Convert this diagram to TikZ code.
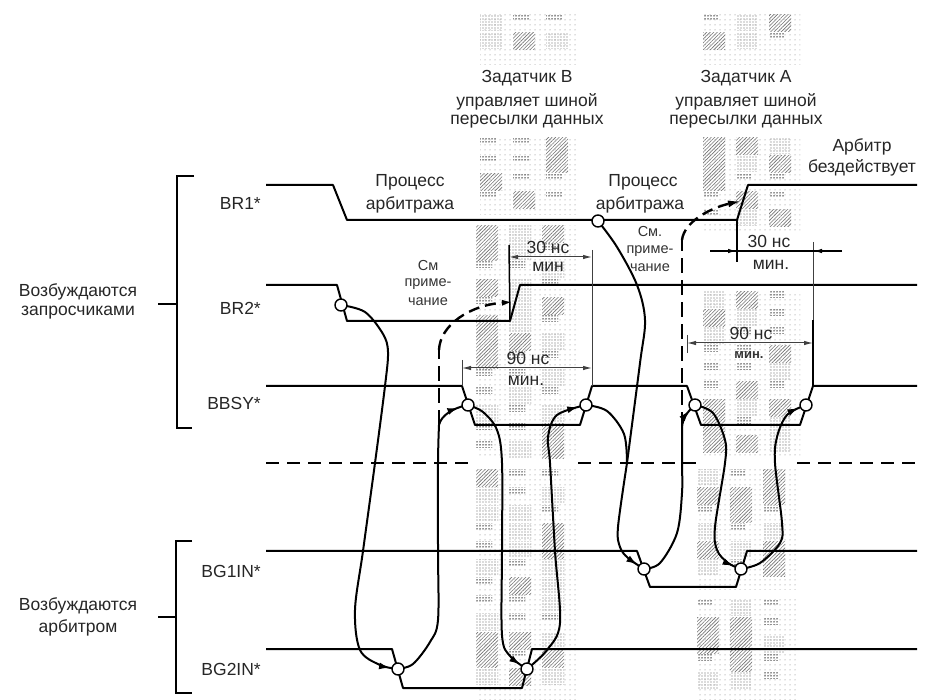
\documentclass[tikz,border=0pt]{standalone}
\usepackage{fontspec}
\setmainfont{Liberation Sans}
\usetikzlibrary{arrows.meta,decorations.markings,patterns.meta}
\pgfdeclarelayer{halftone}
\pgfdeclarelayer{lines}
\pgfsetlayers{halftone,lines,main}
\pgfmathsetseed{4711}
\newcommand{\bandtiles}[4]{% x0 x1 y0 y1
  \fill[pattern={Dots[distance=5pt,radius=.5pt]},pattern color=black!55] (#1,#3) rectangle (#2+22,#4+16);
  \pgfmathsetmacro{\xnext}{#1+33}
  \pgfmathsetmacro{\ynext}{#3+18}
  \foreach \tx in {#1,\xnext,...,#2}{
    \foreach \ty in {#3,\ynext,...,#4}{
      \pgfmathsetmacro{\pick}{int(random(1,6))}
      \ifnum\pick<3
        \fill[pattern={Lines[angle=45,distance=2.5pt,line width=.6pt]},pattern color=black!55] (\tx,\ty) rectangle ++(22,17);
      \else\ifnum\pick<5
        \fill[pattern={Dots[distance=3pt,radius=.55pt]},pattern color=black!60] (\tx,\ty) rectangle ++(22,16);
      \else
        \fill[pattern={Dots[distance=3pt,radius=.75pt]},pattern color=black!85] (\tx,\ty) rectangle ++(16,6);
      \fi\fi
    }
  }
}
\tikzset{
  signal/.style={line width=2pt,line join=round},
  thinsig/.style={line width=1.5pt,line join=round},
  curve/.style={line width=2pt},
  dimline/.style={line width=1pt,black!75},
  dimarrow/.style={dimline,{Latex[length=9pt,width=4.5pt]}-{Latex[length=9pt,width=4.5pt]}},
  brace/.style={line width=2pt},
  junction/.style={circle,draw,line width=1.4pt,fill=white,minimum size=12pt,inner sep=0pt},
  lbl/.style={font=\fontsize{17.5}{17.5}\selectfont,text=black!85,inner sep=0pt,anchor=center},
  small/.style={font=\fontsize{14.5}{14.5}\selectfont,text=black!80,inner sep=0pt,anchor=center},
  tip/.style={postaction={decorate},decoration={markings,mark=at position #1 with {\arrow{Latex[length=11pt,width=7pt]}}}},
  dashcurve/.style={line width=2.4pt,dash pattern=on 15pt off 7pt},
}
\begin{document}
\begin{tikzpicture}[x=1pt,y=-1pt]
\useasboundingbox (0,0) rectangle (930,700);
% junctions
\node[junction] (j1) at (341,305) {};
\node[junction] (j2) at (598,221) {};
\node[junction] (j3) at (468,405) {};
\node[junction] (j4) at (586,405) {};
\node[junction] (j5) at (695,405) {};
\node[junction] (j6) at (806,405) {};
\node[junction] (j7) at (644,569) {};
\node[junction] (j8) at (741,569) {};
\node[junction] (j9) at (398,669) {};
\node[junction] (j10) at (527,669) {};
% free ends
\coordinate (br1a) at (266,185);
\coordinate (br1b) at (333,185);
\coordinate (br1c) at (347,220);
\coordinate (br1d) at (737,220);
\coordinate (br1e) at (748,185);
\coordinate (br1f) at (917,185);
\coordinate (br2a) at (266,285);
\coordinate (br2b) at (337,285);
\coordinate (br2c) at (347,321);
\coordinate (br2d) at (510,321);
\coordinate (br2e) at (520,285);
\coordinate (br2f) at (917,285);
\coordinate (bbA) at (266,386);
\coordinate (bbB) at (462,386);
\coordinate (bbC) at (475,425);
\coordinate (bbD) at (580,425);
\coordinate (bbE) at (592,386);
\coordinate (bbF) at (687,386);
\coordinate (bbG) at (701,425);
\coordinate (bbH) at (800,425);
\coordinate (bbI) at (813,386);
\coordinate (bbJ) at (917,386);
\coordinate (g1a) at (266,551);
\coordinate (g1b) at (637,551);
\coordinate (g1c) at (650,587);
\coordinate (g1d) at (736,587);
\coordinate (g1e) at (747,551);
\coordinate (g1f) at (917,551);
\coordinate (g2a) at (266,649);
\coordinate (g2b) at (392,649);
\coordinate (g2c) at (403,688);
\coordinate (g2d) at (522,688);
\coordinate (g2e) at (532,649);
\coordinate (g2f) at (917,649);
\coordinate (m1) at (439,425);
\coordinate (m2) at (682,427);
\coordinate (arr1) at (513,302);
\coordinate (arr2) at (741,201);
\coordinate (merge) at (627,463);
% texts
\node[lbl] (t1) at (527,78) {Задатчик В};
\node[lbl] (t2) at (527,102) {управляет шиной};
\node[lbl] (t3) at (527,122) {пересылки данных};
\node[lbl] (t4) at (746,78) {Задатчик А};
\node[lbl] (t5) at (746,102) {управляет шиной};
\node[lbl] (t6) at (746,122) {пересылки данных};
\node[lbl] (t7) at (862,147) {Арбитр};
\node[lbl] (t8) at (862,168) {бездействует};
\node[lbl] (t9) at (410,182) {Процесс};
\node[lbl] (t10) at (410,205) {арбитража};
\node[lbl] (t11) at (643,182) {Процесс};
\node[lbl] (t12) at (640,205) {арбитража};
\node[small] (n1) at (428,266) {См};
\node[small] (n2) at (428,284) {приме-};
\node[small] (n3) at (428,302) {чание};
\node[small] (n4) at (650,232) {См.};
\node[small] (n5) at (650,251) {приме-};
\node[small] (n6) at (650,268) {чание};
\node[lbl] (d1) at (548,247) {30 нс};
\node[lbl] (d2) at (548,267) {мин};
\node[lbl] (d3) at (528,358) {90 нс};
\node[lbl] (d4) at (526,381) {мин.};
\node[lbl] (d5) at (769,241) {30 нс};
\node[lbl] (d6) at (771,265) {мин.};
\node[lbl] (d7) at (751,333) {90 нс};
\node[small,font=\fontsize{13}{13}\selectfont\bfseries] (d8) at (749,355) {мин.};
\node[lbl,anchor=east] (s1) at (261,203) {BR1*};
\node[lbl,anchor=east] (s2) at (261,308) {BR2*};
\node[lbl,anchor=east] (s3) at (261,403) {BBSY*};
\node[lbl,anchor=east] (s4) at (261,571) {BG1IN*};
\node[lbl,anchor=east] (s5) at (261,669) {BG2IN*};
\node[lbl] (e1) at (78,292) {Возбуждаются};
\node[lbl] (e2) at (78,313) {запросчиками};
\node[lbl] (e3) at (78,606) {Возбуждаются};
\node[lbl] (e4) at (78,628) {арбитром};
% halftone bands
\begin{pgfonlayer}{halftone}
\bandtiles{480}{555}{15}{49}
\bandtiles{480}{555}{138}{199}
\bandtiles{476}{555}{226}{442}
\bandtiles{476}{555}{470}{684}
\bandtiles{703}{778}{15}{49}
\bandtiles{703}{778}{138}{216}
\bandtiles{703}{778}{292}{442}
\bandtiles{697}{775}{470}{574}
\bandtiles{697}{775}{600}{684}
\end{pgfonlayer}
\begin{pgfonlayer}{lines}
% signals
\draw[signal] (br1a) -- (br1b) -- (br1c) -- (br1d) -- (br1e) -- (br1f);
\draw[signal] (br2a) -- (br2b) -- (br2c) -- (br2d) -- (br2e) -- (br2f);
\draw[signal] (bbA) -- (bbB) -- (bbC) -- (bbD) -- (bbE) -- (bbF) -- (bbG) -- (bbH) -- (bbI) -- (bbJ);
\draw[signal] (g1a) -- (g1b) -- (g1c) -- (g1d) -- (g1e) -- (g1f);
\draw[signal] (g2a) -- (g2b) -- (g2c) -- (g2d) -- (g2e) -- (g2f);
% dashed separator
\coordinate (sepA) at (266,463);
\coordinate (sepB) at (475,463);
\coordinate (sepC) at (578,463);
\coordinate (sepD) at (697,463);
\coordinate (sepE) at (797,463);
\coordinate (sepF) at (917,463);
\draw[line width=2pt,dash pattern=on 13pt off 8pt] (sepA) -- (sepB);
\draw[line width=2pt,dash pattern=on 13pt off 8pt] (sepC) -- (sepD);
\draw[line width=2pt,dash pattern=on 13pt off 8pt] (sepE) -- (sepF);
% causal curves
\draw[curve,tip=-8pt] plot[smooth,tension=.55] coordinates {(j1.center) (365,312) (383,334) (388,352) (385,386) (375,463) (363,551) (355,610) (360,650) (380,665) (j9.center)};
\draw[curve] plot[smooth,tension=.55] coordinates {(j9.center) (413,664) (430,642) (438,620) (438,551) (438,463) (m1)};
\draw[curve,tip=-10pt] (m1) .. controls (441,416) and (452,408) .. (j3.center);
\draw[curve,tip=-8pt] plot[smooth,tension=.55] coordinates {(j3.center) (483,412) (497,430) (502,463) (502,551) (502,635) (510,656) (j10.center)};
\draw[curve,tip=-8pt] plot[smooth,tension=.55] coordinates {(j10.center) (547,650) (560,623) (555,551) (550,463) (548,437) (557,415) (j4.center)};
\draw[curve] plot[smooth,tension=.55] coordinates {(j4.center) (607,411) (624,434) (merge)};
\draw[curve] plot[smooth,tension=.55] coordinates {(j2.center) (617,247) (637,285) (645,320) (640,363) (merge)};
\draw[curve,tip=-8pt] plot[smooth,tension=.55] coordinates {(merge) (618,527) (620,547) (628,558) (j7.center)};
\draw[curve] plot[smooth,tension=.55] coordinates {(j7.center) (660,563) (677,533) (682,493) (682,463) (m2)};
\draw[curve,tip=-8pt] (m2) .. controls (683,418) and (687,412) .. (j5.center);
\draw[curve,tip=-8pt] plot[smooth,tension=.55] coordinates {(j5.center) (713,413) (725,440) (725,463) (715,527) (717,550) (728,563) (j8.center)};
\draw[curve,tip=-8pt] plot[smooth,tension=.55] coordinates {(j8.center) (760,563) (780,543) (782,523) (775,463) (777,437) (787,415) (j6.center)};
% dashed causal curves
\draw[dashcurve] (m1) -- (439,350);
\draw[dashcurve,-{Latex[length=11pt,width=6pt]},dash pattern=on 11pt off 6pt] (439,350) .. controls (440,325) and (470,305) .. (arr1);
\draw[dashcurve] (m2) -- (682,240);
\draw[dashcurve,-{Latex[length=13pt,width=7pt]},dash pattern=on 11pt off 6pt] (682,240) .. controls (684,222) and (710,208) .. (arr2);
% dimension lines
\coordinate (v1a) at (509,245);
\coordinate (v2a) at (592,250);
\coordinate (v3a) at (462,360);
\coordinate (v4a) at (813,242);
\coordinate (v4b) at (813,320);
\coordinate (v5a) at (737,262);
\coordinate (v6a) at (687,335);
\coordinate (v6b) at (687,353);
\coordinate (h1a) at (509,257);
\coordinate (h1b) at (592,257);
\coordinate (h2a) at (462,368);
\coordinate (h2b) at (592,368);
\coordinate (h3a) at (710,251);
\coordinate (h3b) at (842,251);
\coordinate (h4a) at (687,343);
\coordinate (h4b) at (813,343);
\draw[thinsig] (v1a) -- (br2d);
\draw[dimline] (v2a) -- (bbE);
\draw[dimline] (v3a) -- (bbB);
\draw[dimline] (v4a) -- (v4b);
\draw[thinsig] (v4b) -- (bbI);
\draw[signal] (br1d) -- (v5a);
\draw[dimline] (v6a) -- (v6b);
\draw[dimarrow] (h1a) -- (h1b);
\draw[dimarrow] (h2a) -- (h2b);
\draw[dimarrow] (h4a) -- (h4b);
\draw[thinsig] (h3a) -- (h3b);
\draw[thinsig,-{Latex[length=9pt,width=4.5pt]}] (h3a) -- (br1d |- h3a);
\draw[thinsig,-{Latex[length=9pt,width=4.5pt]}] (h3b) -- (v4a |- h3b);
% brackets
\coordinate (ba) at (194,176);
\coordinate (bb) at (177,176);
\coordinate (bc) at (177,428);
\coordinate (bd) at (192,428);
\coordinate (be) at (158,304);
\coordinate (bf) at (177,304);
\coordinate (ca) at (192,541);
\coordinate (cb) at (176,541);
\coordinate (cc) at (176,693);
\coordinate (cd) at (192,693);
\coordinate (ce) at (158,617);
\coordinate (cf) at (176,617);
\draw[brace] (ba) -- (bb) -- (bc) -- (bd);
\draw[brace] (be) -- (bf);
\draw[brace] (ca) -- (cb) -- (cc) -- (cd);
\draw[brace] (ce) -- (cf);
\end{pgfonlayer}
\end{tikzpicture}
\end{document}
